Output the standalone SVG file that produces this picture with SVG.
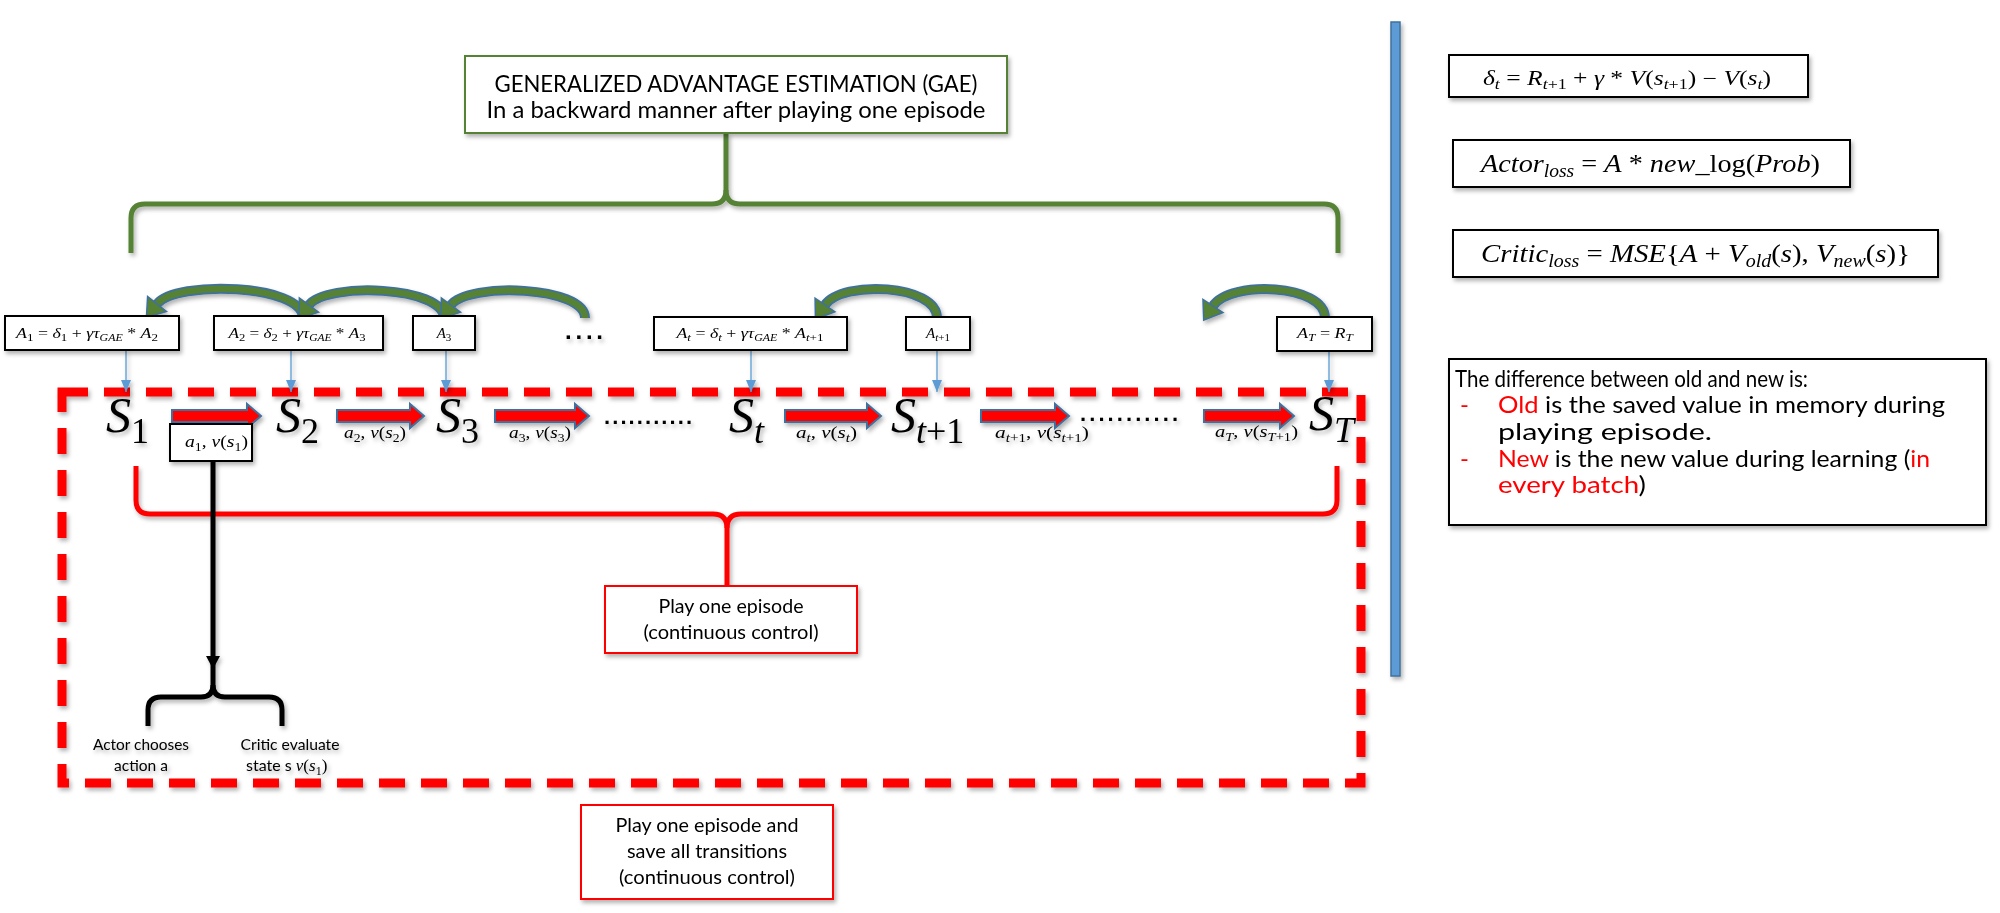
<svg xmlns="http://www.w3.org/2000/svg" width="2000" height="913" viewBox="0 0 2000 913">
<defs>
<style>
.bx{fill:#fff;stroke:#000;stroke-width:2}
.m{font-family:"Liberation Serif","DejaVu Serif",serif;font-style:italic;fill:#000}
.u{font-style:normal}
.t{font-family:Lato,"Open Sans","Liberation Sans",sans-serif;fill:#000}
.red{fill:#FF0000}
.arcB{fill:none;stroke:#41719C;stroke-width:10}
.arcG{fill:none;stroke:#548235;stroke-width:6.5}
.thin{stroke:#5B9BD5;stroke-width:1.3;fill:none}
.rarrow{fill:#FF0000;stroke:#41719C;stroke-width:2}
.gbrace{fill:none;stroke:#548235;stroke-width:5}
.rbrace{fill:none;stroke:#FF0000;stroke-width:5}
.kbrace{fill:none;stroke:#000;stroke-width:5}
.dots{font-family:"Liberation Sans",sans-serif;font-weight:bold;fill:#000}
</style>
<filter id="sh" filterUnits="userSpaceOnUse" x="0" y="0" width="2000" height="913"><feDropShadow dx="2" dy="3" stdDeviation="2" flood-color="#000" flood-opacity="0.3"/></filter>
<marker id="ch" markerUnits="userSpaceOnUse" viewBox="-2 -14 22 28" markerWidth="22" markerHeight="28" refX="0" refY="0" orient="auto"><path d="M0,-12 L17,0 L0,12 Z" fill="#548235" stroke="#41719C" stroke-width="1.5"/></marker>
<marker id="tb" markerUnits="userSpaceOnUse" viewBox="0 -6 12 12" markerWidth="12" markerHeight="12" refX="12" refY="0" orient="auto"><path d="M0,-5 L12,0 L0,5 Z" fill="#5B9BD5"/></marker>
</defs>
<rect x="0" y="0" width="2000" height="913" fill="#fff"/>

<g id="blue-bar" filter="url(#sh)"><rect x="1391" y="22" width="9" height="654" fill="#5B9BD5" stroke="#41719C" stroke-width="1.5"/></g>

<g id="episode-box" filter="url(#sh)"><rect x="62" y="392" width="1299" height="391" fill="none" stroke="#FF0000" stroke-width="9" stroke-dasharray="26 16"/></g>

<g id="connectors" filter="url(#sh)">
  <path class="gbrace" d="M131,253 L131,218 Q131,204 145,204 L712,204 Q726,204 726,190 L726,133"/>
  <path class="gbrace" d="M1338,253 L1338,218 Q1338,204 1324,204 L740,204 Q726,204 726,190"/>
  <path class="rbrace" d="M136,466 L136,500 Q136,514 150,514 L713,514 Q727,514 727,528 L727,586"/>
  <path class="rbrace" d="M1337,466 L1337,500 Q1337,514 1323,514 L741,514 Q727,514 727,528"/>
  <path class="kbrace" d="M148,726 L148,710 Q148,697 161,697 L201,697 Q213,697 213,685 L213,461"/>
  <path class="kbrace" d="M282,726 L282,710 Q282,697 269,697 L225,697 Q213,697 213,685"/>
  <polygon points="206,656 220,656 213,669" fill="#000"/>
  <g id="arc1"><path class="arcB" d="M303,318 C303,284 176,280 157,304"/><path class="arcG" d="M303,318 C303,284 176,280 157,304" marker-end="url(#ch)"/></g>
  <g id="arc2"><path class="arcB" d="M444,318 C444,286 326,282 309,305"/><path class="arcG" d="M444,318 C444,286 326,282 309,305" marker-end="url(#ch)"/></g>
  <g id="arc3"><path class="arcB" d="M585,318 C585,286 468,282 451,305"/><path class="arcG" d="M585,318 C585,286 468,282 451,305" marker-end="url(#ch)"/></g>
  <g id="arc4"><path class="arcB" d="M937,318 C937,284 842,280 825,305"/><path class="arcG" d="M937,318 C937,284 842,280 825,305" marker-end="url(#ch)"/></g>
  <g id="arc5"><path class="arcB" d="M1325,318 C1325,284 1230,280 1213,306"/><path class="arcG" d="M1325,318 C1325,284 1230,280 1213,306" marker-end="url(#ch)"/></g>
  <line class="thin" x1="126" y1="350" x2="126" y2="392" marker-end="url(#tb)"/>
  <line class="thin" x1="291" y1="350" x2="291" y2="392" marker-end="url(#tb)"/>
  <line class="thin" x1="446" y1="350" x2="446" y2="392" marker-end="url(#tb)"/>
  <line class="thin" x1="751" y1="350" x2="751" y2="392" marker-end="url(#tb)"/>
  <line class="thin" x1="937" y1="350" x2="937" y2="392" marker-end="url(#tb)"/>
  <line class="thin" x1="1329" y1="351" x2="1329" y2="392" marker-end="url(#tb)"/>
  <path class="rarrow" d="M172,410 H247 V404 L261,416 L247,428 V422 H172 Z"/>
  <path class="rarrow" d="M337,410 H410 V404 L424,416 L410,428 V422 H337 Z"/>
  <path class="rarrow" d="M495,410 H575 V404 L589,416 L575,428 V422 H495 Z"/>
  <path class="rarrow" d="M785,410 H867 V404 L881,416 L867,428 V422 H785 Z"/>
  <path class="rarrow" d="M981,410 H1055 V404 L1069,416 L1055,428 V422 H981 Z"/>
  <path class="rarrow" d="M1204,410 H1280 V404 L1294,416 L1280,428 V422 H1204 Z"/>
</g>

<g id="gae" filter="url(#sh)">
  <rect x="465" y="56" width="542" height="77" fill="#fff" stroke="#548235" stroke-width="2"/>
  <text class="t" x="736" y="92" font-size="24" text-anchor="middle" textLength="483" lengthAdjust="spacingAndGlyphs">GENERALIZED ADVANTAGE ESTIMATION (GAE)</text>
  <text class="t" x="736" y="118" font-size="24" text-anchor="middle" textLength="499" lengthAdjust="spacingAndGlyphs">In a backward manner after playing one episode</text>
</g>

<g id="delta-formula" filter="url(#sh)">
  <rect class="bx" x="1449" y="55" width="359" height="42"/>
  <text class="m" x="1483" y="85" font-size="20" textLength="288" lengthAdjust="spacingAndGlyphs">δ<tspan font-size="14" dy="4">t</tspan><tspan class="u" dy="-4"> = </tspan>R<tspan font-size="14" dy="4">t</tspan><tspan class="u" font-size="14">+1</tspan><tspan class="u" dy="-4"> + </tspan>γ<tspan class="u"> * </tspan>V<tspan class="u">(</tspan>s<tspan font-size="14" dy="4">t</tspan><tspan class="u" font-size="14">+1</tspan><tspan class="u" dy="-4">) − </tspan>V<tspan class="u">(</tspan>s<tspan font-size="14" dy="4">t</tspan><tspan class="u" dy="-4">)</tspan></text>
</g>

<g id="actor-loss" filter="url(#sh)">
  <rect class="bx" x="1453" y="140" width="397" height="47"/>
  <text class="m" x="1481" y="172" font-size="26" textLength="339" lengthAdjust="spacingAndGlyphs">Actor<tspan font-size="18" dy="5">loss</tspan><tspan class="u" dy="-5"> = </tspan>A<tspan class="u"> * </tspan>new<tspan class="u">_log(</tspan>Prob<tspan class="u">)</tspan></text>
</g>

<g id="critic-loss" filter="url(#sh)">
  <rect class="bx" x="1453" y="230" width="485" height="47"/>
  <text class="m" x="1481" y="262" font-size="26" textLength="429" lengthAdjust="spacingAndGlyphs">Critic<tspan font-size="18" dy="5">loss</tspan><tspan class="u" dy="-5"> = </tspan>MSE<tspan class="u">{</tspan>A<tspan class="u"> + </tspan>V<tspan font-size="18" dy="5">old</tspan><tspan class="u" dy="-5">(</tspan>s<tspan class="u">), </tspan>V<tspan font-size="18" dy="5">new</tspan><tspan class="u" dy="-5">(</tspan>s<tspan class="u">)}</tspan></text>
</g>

<g id="difference-note" filter="url(#sh)">
  <rect class="bx" x="1449" y="359" width="537" height="166"/>
  <text class="t" x="1455" y="387" font-size="24" textLength="353" lengthAdjust="spacingAndGlyphs">The difference between old and new is:</text>
  <text class="t red" x="1460" y="413" font-size="24">-</text>
  <text class="t" x="1498" y="413" font-size="24" textLength="447" lengthAdjust="spacingAndGlyphs"><tspan class="red">Old</tspan> is the saved value in memory during</text>
  <text class="t" x="1498" y="440" font-size="24" textLength="214" lengthAdjust="spacingAndGlyphs">playing episode.</text>
  <text class="t red" x="1460" y="467" font-size="24">-</text>
  <text class="t" x="1498" y="467" font-size="24" textLength="432" lengthAdjust="spacingAndGlyphs"><tspan class="red">New</tspan> is the new value during learning (<tspan class="red">in</tspan></text>
  <text class="t" x="1498" y="493" font-size="24" textLength="148" lengthAdjust="spacingAndGlyphs"><tspan class="red">every batch</tspan>)</text>
</g>

<g id="A1" filter="url(#sh)">
  <rect class="bx" x="5" y="316" width="174" height="34"/>
  <text class="m" x="87" y="338" font-size="15" text-anchor="middle" textLength="142" lengthAdjust="spacingAndGlyphs">A<tspan class="u" font-size="11" dy="3">1</tspan><tspan class="u" dy="-3"> = </tspan>δ<tspan class="u" font-size="11" dy="3">1</tspan><tspan class="u" dy="-3"> + </tspan>γτ<tspan font-size="10" dy="3">GAE</tspan><tspan class="u" dy="-3"> * </tspan>A<tspan class="u" font-size="11" dy="3">2</tspan></text>
</g>
<g id="A2" filter="url(#sh)">
  <rect class="bx" x="214" y="316" width="169" height="34"/>
  <text class="m" x="297" y="338" font-size="15" text-anchor="middle" textLength="137" lengthAdjust="spacingAndGlyphs">A<tspan class="u" font-size="11" dy="3">2</tspan><tspan class="u" dy="-3"> = </tspan>δ<tspan class="u" font-size="11" dy="3">2</tspan><tspan class="u" dy="-3"> + </tspan>γτ<tspan font-size="10" dy="3">GAE</tspan><tspan class="u" dy="-3"> * </tspan>A<tspan class="u" font-size="11" dy="3">3</tspan></text>
</g>
<g id="A3" filter="url(#sh)">
  <rect class="bx" x="413" y="316" width="62" height="34"/>
  <text class="m" x="444" y="338" font-size="15" text-anchor="middle">A<tspan class="u" font-size="11" dy="3">3</tspan></text>
</g>
<g id="A-dots" filter="url(#sh)"><text class="dots" x="565" y="339" font-size="24" textLength="38" lengthAdjust="spacing">....</text></g>
<g id="At" filter="url(#sh)">
  <rect class="bx" x="654" y="317" width="193" height="33"/>
  <text class="m" x="750" y="338" font-size="15" text-anchor="middle" textLength="147" lengthAdjust="spacingAndGlyphs">A<tspan font-size="11" dy="3">t</tspan><tspan class="u" dy="-3"> = </tspan>δ<tspan font-size="11" dy="3">t</tspan><tspan class="u" dy="-3"> + </tspan>γτ<tspan font-size="10" dy="3">GAE</tspan><tspan class="u" dy="-3"> * </tspan>A<tspan font-size="11" dy="3">t</tspan><tspan class="u" font-size="11">+1</tspan></text>
</g>
<g id="At1" filter="url(#sh)">
  <rect class="bx" x="906" y="317" width="64" height="33"/>
  <text class="m" x="938" y="338" font-size="15" text-anchor="middle">A<tspan font-size="11" dy="3">t</tspan><tspan class="u" font-size="11">+1</tspan></text>
</g>
<g id="AT" filter="url(#sh)">
  <rect class="bx" x="1277" y="317" width="95" height="34"/>
  <text class="m" x="1325" y="338" font-size="15" text-anchor="middle" textLength="56" lengthAdjust="spacingAndGlyphs">A<tspan font-size="11" dy="3">T</tspan><tspan class="u" dy="-3"> =  </tspan>R<tspan font-size="11" dy="3">T</tspan></text>
</g>

<g id="S1" filter="url(#sh)"><text class="m" x="106" y="432" font-size="50">S<tspan class="u" font-size="36" dy="11">1</tspan></text></g>
<g id="S2" filter="url(#sh)"><text class="m" x="276" y="432" font-size="50">S<tspan class="u" font-size="36" dy="11">2</tspan></text></g>
<g id="S3" filter="url(#sh)"><text class="m" x="436" y="432" font-size="50">S<tspan class="u" font-size="36" dy="11">3</tspan></text></g>
<g id="St" filter="url(#sh)"><text class="m" x="729" y="432" font-size="50">S<tspan font-size="36" dy="11">t</tspan></text></g>
<g id="St1" filter="url(#sh)"><text class="m" x="891" y="432" font-size="50">S<tspan font-size="36" dy="11">t</tspan><tspan class="u" font-size="36">+1</tspan></text></g>
<g id="ST" filter="url(#sh)"><text class="m" x="1309" y="430" font-size="50">S<tspan font-size="36" dy="12">T</tspan></text></g>

<g id="row-dots" filter="url(#sh)">
  <text class="dots" x="604" y="424" font-size="22" textLength="88" lengthAdjust="spacing">...........</text>
  <text class="dots" x="1080" y="421" font-size="22" textLength="98" lengthAdjust="spacing">...........</text>
</g>

<g id="a1-label" filter="url(#sh)">
  <rect class="bx" x="170" y="424" width="82" height="37"/>
  <text class="m" x="185" y="447" font-size="17" textLength="63" lengthAdjust="spacingAndGlyphs">a<tspan class="u" font-size="12" dy="4">1</tspan><tspan class="u" dy="-4">, </tspan>v<tspan class="u">(</tspan>s<tspan class="u" font-size="12" dy="4">1</tspan><tspan class="u" dy="-4">)</tspan></text>
</g>
<g id="labels" filter="url(#sh)">
  <text class="m" x="344" y="438" font-size="17" textLength="62" lengthAdjust="spacingAndGlyphs">a<tspan class="u" font-size="12" dy="4">2</tspan><tspan class="u" dy="-4">, </tspan>v<tspan class="u">(</tspan>s<tspan class="u" font-size="12" dy="4">2</tspan><tspan class="u" dy="-4">)</tspan></text>
  <text class="m" x="509" y="438" font-size="17" textLength="62" lengthAdjust="spacingAndGlyphs">a<tspan class="u" font-size="12" dy="4">3</tspan><tspan class="u" dy="-4">, </tspan>v<tspan class="u">(</tspan>s<tspan class="u" font-size="12" dy="4">3</tspan><tspan class="u" dy="-4">)</tspan></text>
  <text class="m" x="796" y="438" font-size="17" textLength="61" lengthAdjust="spacingAndGlyphs">a<tspan font-size="12" dy="4">t</tspan><tspan class="u" dy="-4">, </tspan>v<tspan class="u">(</tspan>s<tspan font-size="12" dy="4">t</tspan><tspan class="u" dy="-4">)</tspan></text>
  <text class="m" x="995" y="438" font-size="17" textLength="94" lengthAdjust="spacingAndGlyphs">a<tspan font-size="12" dy="4">t</tspan><tspan class="u" font-size="12">+1</tspan><tspan class="u" dy="-4">, </tspan>v<tspan class="u">(</tspan>s<tspan font-size="12" dy="4">t</tspan><tspan class="u" font-size="12">+1</tspan><tspan class="u" dy="-4">)</tspan></text>
  <text class="m" x="1215" y="437" font-size="17" textLength="83" lengthAdjust="spacingAndGlyphs">a<tspan font-size="12" dy="4">T</tspan><tspan class="u" dy="-4">, </tspan>v<tspan class="u">(</tspan>s<tspan font-size="12" dy="4">T</tspan><tspan class="u" font-size="12">+1</tspan><tspan class="u" dy="-4">)</tspan></text>
</g>

<g id="play-episode" filter="url(#sh)">
  <rect x="605" y="586" width="252" height="67" fill="#fff" stroke="#FF0000" stroke-width="2"/>
  <text class="t" x="731" y="613" font-size="19" text-anchor="middle" textLength="145" lengthAdjust="spacingAndGlyphs">Play one episode</text>
  <text class="t" x="731" y="639" font-size="19" text-anchor="middle" textLength="175" lengthAdjust="spacingAndGlyphs">(continuous control)</text>
</g>

<g id="play-save" filter="url(#sh)">
  <rect x="581" y="805" width="252" height="94" fill="#fff" stroke="#FF0000" stroke-width="2"/>
  <text class="t" x="707" y="832" font-size="19" text-anchor="middle" textLength="183" lengthAdjust="spacingAndGlyphs">Play one episode and</text>
  <text class="t" x="707" y="858" font-size="19" text-anchor="middle" textLength="160" lengthAdjust="spacingAndGlyphs">save all transitions</text>
  <text class="t" x="707" y="884" font-size="19" text-anchor="middle" textLength="176" lengthAdjust="spacingAndGlyphs">(continuous control)</text>
</g>

<g id="actor-text" filter="url(#sh)">
  <text class="t" x="141" y="750" font-size="16" text-anchor="middle" textLength="96" lengthAdjust="spacingAndGlyphs">Actor chooses</text>
  <text class="t" x="141" y="771" font-size="16" text-anchor="middle" textLength="54" lengthAdjust="spacingAndGlyphs">action a</text>
</g>
<g id="critic-text" filter="url(#sh)">
  <text class="t" x="290" y="750" font-size="16" text-anchor="middle" textLength="99" lengthAdjust="spacingAndGlyphs">Critic evaluate</text>
  <text class="t" x="246" y="771" font-size="16">state s <tspan class="m" font-size="17">v</tspan><tspan class="m u" font-size="17">(</tspan><tspan class="m" font-size="17">s</tspan><tspan class="m u" font-size="12" dy="4">1</tspan><tspan class="m u" font-size="17" dy="-4">)</tspan></text>
</g>
</svg>
